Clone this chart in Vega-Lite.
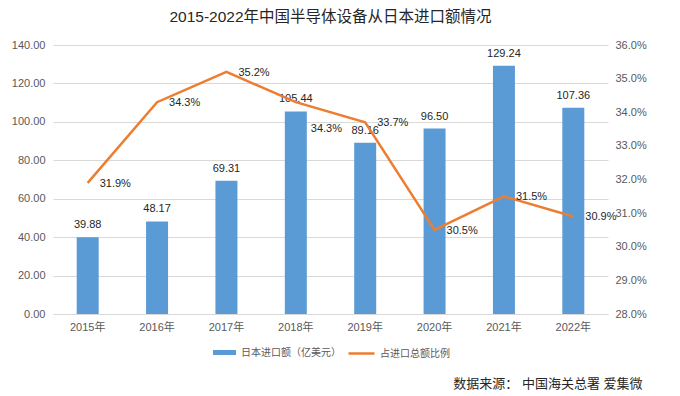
{
  "$schema": "https://vega.github.io/schema/vega-lite/v6.json",
  "width": 555,
  "height": 269,
  "autosize": {"type": "none"},
  "padding": {"left": 53, "top": 45, "right": 72, "bottom": 82},
  "background": "white",
  "config": {
    "font": "Liberation Sans, Noto Sans CJK SC",
    "view": {"stroke": null}
  },
  "title": {
    "text": "2015-2022年中国半导体设备从日本进口额情况",
    "fontSize": 15.5,
    "fontWeight": "normal",
    "color": "#262626",
    "frame": "group",
    "anchor": "middle",
    "offset": 14
  },
  "data": {
    "values": [
      {"year": "2015年", "amount": 39.88, "ratio": 0.319},
      {"year": "2016年", "amount": 48.17, "ratio": 0.343},
      {"year": "2017年", "amount": 69.31, "ratio": 0.352},
      {"year": "2018年", "amount": 105.44, "ratio": 0.343},
      {"year": "2019年", "amount": 89.16, "ratio": 0.337},
      {"year": "2020年", "amount": 96.50, "ratio": 0.305},
      {"year": "2021年", "amount": 129.24, "ratio": 0.315},
      {"year": "2022年", "amount": 107.36, "ratio": 0.309}
    ]
  },
  "encoding": {
    "x": {
      "field": "year",
      "type": "ordinal",
      "scale": {"paddingInner": 0, "paddingOuter": 0},
      "axis": {
        "labelAngle": 0,
        "labelColor": "#595959",
        "labelFontSize": 11,
        "labelPadding": 7,
        "ticks": false,
        "domain": true,
        "domainColor": "#d9d9d9",
        "title": "数据来源： 中国海关总署  爱集微",
        "titleX": 589,
        "titleY": 69,
        "titleAnchor": "end",
        "titleAlign": "right",
        "titleBaseline": "middle",
        "titleFontSize": 13,
        "titleFontWeight": "normal",
        "titleColor": "#262626"
      }
    }
  },
  "layer": [
    {
      "encoding": {
        "y": {
          "field": "amount",
          "type": "quantitative",
          "scale": {"domain": [0, 140]},
          "axis": {
            "values": [0, 20, 40, 60, 80, 100, 120, 140],
            "format": ".2f",
            "title": null,
            "orient": "left",
            "domain": false,
            "ticks": false,
            "grid": true,
            "gridColor": "#d9d9d9",
            "labelColor": "#595959",
            "labelFontSize": 11,
            "labelPadding": 8
          }
        }
      },
      "layer": [
        {
          "mark": {"type": "bar", "size": 22},
          "encoding": {
            "fill": {
              "datum": "日本进口额（亿美元）",
              "type": "nominal",
              "scale": {"range": ["#5B9BD5"]},
              "legend": {
                "orient": "none",
                "legendX": 160,
                "legendY": 296,
                "title": null,
                "padding": 0,
                "symbolType": "M-1,-0.22L1,-0.22L1,0.22L-1,0.22Z",
                "symbolSize": 529,
                "symbolStrokeWidth": 0,
                "labelFontSize": 10,
                "labelColor": "#595959",
                "labelOffset": 5
              }
            }
          }
        },
        {
          "mark": {"type": "text", "baseline": "alphabetic", "dy": -9, "fontSize": 11, "color": "#262626"},
          "encoding": {
            "text": {"field": "amount", "type": "quantitative", "format": ".2f"}
          }
        }
      ]
    },
    {
      "encoding": {
        "y": {
          "field": "ratio",
          "type": "quantitative",
          "scale": {"domain": [0.28, 0.36]},
          "axis": {
            "values": [0.28, 0.29, 0.30, 0.31, 0.32, 0.33, 0.34, 0.35, 0.36],
            "format": ".1%",
            "title": null,
            "orient": "right",
            "domain": false,
            "ticks": false,
            "grid": false,
            "labelColor": "#595959",
            "labelFontSize": 11,
            "labelPadding": 7
          }
        }
      },
      "layer": [
        {
          "mark": {"type": "line", "strokeWidth": 2.5, "strokeJoin": "miter"},
          "encoding": {
            "stroke": {
              "datum": "占进口总额比例",
              "type": "nominal",
              "scale": {"range": ["#ED7D31"]},
              "legend": {
                "orient": "none",
                "legendX": 294,
                "legendY": 294,
                "title": null,
                "padding": 0,
                "symbolType": "stroke",
                "symbolSize": 676,
                "symbolStrokeWidth": 2.5,
                "labelFontSize": 10,
                "labelColor": "#595959",
                "labelOffset": 4
              }
            }
          }
        },
        {
          "transform": [{"filter": "datum.year != '2018年'"}],
          "mark": {"type": "text", "align": "left", "baseline": "middle", "dx": 12, "dy": 1, "fontSize": 11, "color": "#262626"},
          "encoding": {
            "text": {"field": "ratio", "type": "quantitative", "format": ".1%"}
          }
        },
        {
          "transform": [{"filter": "datum.year == '2018年'"}],
          "mark": {"type": "text", "align": "left", "baseline": "middle", "dx": 15, "dy": 27, "fontSize": 11, "color": "#262626"},
          "encoding": {
            "text": {"field": "ratio", "type": "quantitative", "format": ".1%"}
          }
        }
      ]
    }
  ],
  "resolve": {"scale": {"y": "independent"}}
}
